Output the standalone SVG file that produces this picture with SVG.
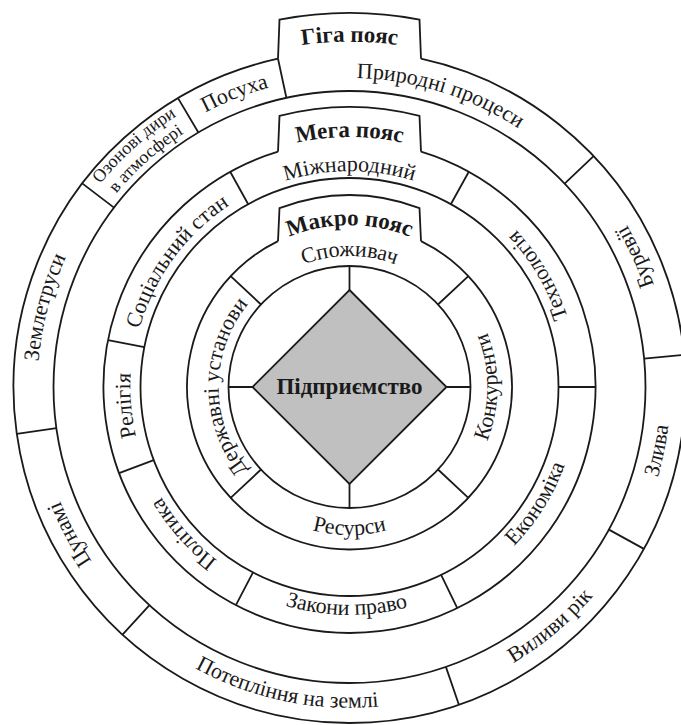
<svg xmlns="http://www.w3.org/2000/svg" xmlns:xlink="http://www.w3.org/1999/xlink" width="681" height="725" viewBox="0 0 681 725">
<style>
.ln{fill:none;stroke:#1a1a1a;stroke-width:1.8}
.t{font-family:"Liberation Serif","Times New Roman",serif;font-size:22px;fill:#1a1a1a}
.s{font-size:18px}
.b{font-family:"Liberation Serif","Times New Roman",serif;font-size:23px;font-weight:bold;fill:#1a1a1a}
</style>
<defs>
<path id="p-spoz" d="M220.5,364.3 A131,131 0 0 1 478.5,364.3"/>
<path id="p-derzh" d="M326.8,516 A131,131 0 0 1 326.8,258"/>
<path id="p-res" d="M203.75,412.7 A148,148 0 0 0 495.25,412.7"/>
<path id="p-konk" d="M375.2,532.75 A148,148 0 0 0 375.2,241.25"/>
<path id="p-mizh" d="M136.8,349.5 A216,216 0 0 1 562.2,349.5"/>
<path id="p-soc" d="M192.7,538.4 A218,218 0 0 1 445.1,191.1"/>
<path id="p-rel" d="M329.5,605.1 A219,219 0 0 1 293.7,175.2"/>
<path id="p-pol" d="M463.4,572.9 A218,218 0 0 1 178.9,251.3"/>
<path id="p-zak" d="M124.5,423.6 A228,228 0 0 0 573.5,429.5"/>
<path id="p-ekon" d="M263.7,599.3 A229,229 0 0 0 502.7,216.8"/>
<path id="p-tech" d="M498.2,561.1 A229,229 0 0 0 269.3,172.5"/>
<path id="p-pryr" d="M74.8,245.5 A309,309 0 0 1 656,426"/>
<path id="p-posu" d="M45.6,448.3 A310,310 0 0 1 614.1,225.5"/>
<path id="p-oz1" d="M76.4,555.7 A321,321 0 0 1 548.5,134.9"/>
<path id="p-oz2" d="M92.1,546.2 A302.5,302.5 0 0 1 537,149.6"/>
<path id="p-zeml" d="M219.4,670.5 A312,312 0 0 1 374.8,76"/>
<path id="p-tsun" d="M444.3,683.2 A311,311 0 0 1 159.1,141.1"/>
<path id="p-potep" d="M28.7,377.2 A321,321 0 0 0 647.6,506"/>
<path id="p-vyl" d="M143.2,632.9 A321,321 0 0 0 627.5,226.5"/>
<path id="p-zlyv" d="M340.3,707.9 A321,321 0 0 0 467.9,88.6"/>
<path id="p-bur" d="M531.1,651.7 A321,321 0 0 0 269.4,76.1"/>
<path id="p-giga" d="M9.7,327.1 A345,345 0 0 1 689.3,327.1"/>
<path id="p-mega" d="M103.3,343.6 A250,250 0 0 1 595.7,343.6"/>
<path id="p-makro" d="M190,358.9 A162,162 0 0 1 509,358.9"/>
</defs>
<rect width="681" height="725" fill="#ffffff"/>

<g id="giga-belt">
<circle class="ln" cx="349.5" cy="387" r="296"/>
<path class="ln" d="M421,58.7 A336,336 0 1 1 278,58.7"/>
<path class="ln" d="M278,58.7 L279.5,19.6 A374,374 0 0 1 419.5,19.6 L421,58.7"/>
<path class="ln" d="M286.4,97.8 L278,58.7 M198.4,132.5 L178,98.1 M114,207.6 L82.2,183.4 M56.4,428.2 L16.8,433.8 M149.5,605.2 L122.5,634.7 M445.9,666.9 L458.9,704.7 M608.9,529.6 L643.9,548.9 M644.1,358.6 L684,354.8 M564.6,183.6 L593.6,156.1"/>
<text class="b" text-anchor="middle"><textPath xlink:href="#p-giga" startOffset="50%">Гіга пояс</textPath></text>
<text class="t" text-anchor="middle"><textPath xlink:href="#p-pryr" startOffset="50%">Природні процеси</textPath></text>
<text class="t" text-anchor="middle"><textPath xlink:href="#p-posu" startOffset="50%">Посуха</textPath></text>
<text class="t s" text-anchor="middle"><textPath xlink:href="#p-oz1" startOffset="50%">Озонові дири</textPath></text>
<text class="t s" text-anchor="middle"><textPath xlink:href="#p-oz2" startOffset="50%">в атмосфері</textPath></text>
<text class="t" text-anchor="middle"><textPath xlink:href="#p-zeml" startOffset="50%">Землетруси</textPath></text>
<text class="t" text-anchor="middle"><textPath xlink:href="#p-tsun" startOffset="50%">Цунамі</textPath></text>
<text class="t" text-anchor="middle"><textPath xlink:href="#p-potep" startOffset="50%">Потепління на землі</textPath></text>
<text class="t" text-anchor="middle"><textPath xlink:href="#p-vyl" startOffset="50%">Виливи рік</textPath></text>
<text class="t" text-anchor="middle"><textPath xlink:href="#p-zlyv" startOffset="50%">Злива</textPath></text>
<text class="t" text-anchor="middle"><textPath xlink:href="#p-bur" startOffset="50%">Буревії</textPath></text>
</g>

<g id="mega-belt">
<circle class="ln" cx="349.5" cy="387" r="209"/>
<path class="ln" d="M421,151.6 A246,246 0 1 1 278,151.6"/>
<path class="ln" d="M278,151.6 L279.5,115.9 A280,280 0 0 1 419.5,115.9 L421,151.6"/>
<path class="ln" d="M450.8,204.2 L468.8,171.8 M248.2,204.2 L230.2,171.8 M144.3,347.1 L108,340.1 M153.7,460.2 L119.1,473.1 M253,572.4 L235.9,605.2 M441.1,574.8 L457.3,608.1 M558.5,387 L595.5,387"/>
<text class="b" text-anchor="middle"><textPath xlink:href="#p-mega" startOffset="50%">Мега пояс</textPath></text>
<text class="t" text-anchor="middle"><textPath xlink:href="#p-mizh" startOffset="50%">Міжнародний</textPath></text>
<text class="t" text-anchor="middle"><textPath xlink:href="#p-soc" startOffset="50%">Соціальний стан</textPath></text>
<text class="t" text-anchor="middle"><textPath xlink:href="#p-rel" startOffset="50%">Релігія</textPath></text>
<text class="t" text-anchor="middle"><textPath xlink:href="#p-pol" startOffset="50%">Політика</textPath></text>
<text class="t" text-anchor="middle"><textPath xlink:href="#p-zak" startOffset="50%">Закони право</textPath></text>
<text class="t" text-anchor="middle"><textPath xlink:href="#p-ekon" startOffset="50%">Економіка</textPath></text>
<text class="t" text-anchor="middle"><textPath xlink:href="#p-tech" startOffset="50%">Технологія</textPath></text>
</g>

<g id="macro-belt">
<circle class="ln" cx="349.5" cy="387" r="121"/>
<path class="ln" d="M421,241.1 A162.5,162.5 0 1 1 278,241.1"/>
<path class="ln" d="M278,241.1 L279.5,208.2 A192,192 0 0 1 419.5,208.2 L421,241.1"/>
<path class="ln" d="M438,304.5 L468.35,276.2 M261,304.5 L230.65,276.2 M261,469.5 L230.65,497.8 M438,469.5 L468.35,497.8"/>
<text class="b" text-anchor="middle"><textPath xlink:href="#p-makro" startOffset="50%">Макро пояс</textPath></text>
<text class="t" text-anchor="middle"><textPath xlink:href="#p-spoz" startOffset="50%">Споживач</textPath></text>
<text class="t" text-anchor="middle"><textPath xlink:href="#p-derzh" startOffset="50%">Державні установи</textPath></text>
<text class="t" text-anchor="middle"><textPath xlink:href="#p-res" startOffset="50%">Ресурси</textPath></text>
<text class="t" text-anchor="middle"><textPath xlink:href="#p-konk" startOffset="50%">Конкуренти</textPath></text>
</g>

<g id="connectors">
<path class="ln" d="M349.5,266 L349.5,290 M349.5,484 L349.5,508 M228.5,387 L252.5,387 M446.5,387 L470.5,387"/>
</g>

<g id="enterprise">
<polygon points="349.5,290 446.5,387 349.5,484 252.5,387" fill="#c0c0c0" stroke="#1a1a1a" stroke-width="1.8"/>
<text class="b" x="349.5" y="394" text-anchor="middle">Підприємство</text>
</g>
</svg>
